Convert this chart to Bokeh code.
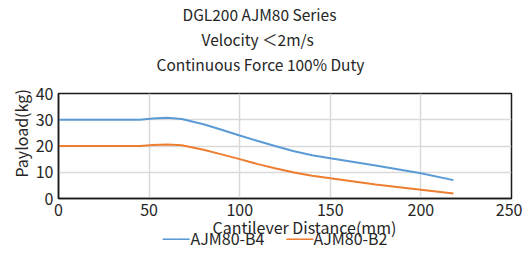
from bokeh.plotting import figure
from bokeh.models import Title, FixedTicker, Range1d
from bokeh.embed import file_html
from bokeh.resources import INLINE

titles = ["DGL200 AJM80 Series", "Velocity ＜2m/s", "Continuous Force 100% Duty"]
x_label = "Cantilever Distance(mm)"
y_label = "Payload(kg)"
x_ticks = [0, 50, 100, 150, 200, 250]
y_ticks = [0, 10, 20, 30, 40]

dist = [0, 45, 52, 60, 68, 80, 90, 100, 110, 120, 130, 140, 150, 175, 200, 218]
b4 = [30, 30, 30.5, 30.8, 30.3, 28.3, 26.2, 24.0, 21.9, 19.9, 18.0, 16.5, 15.3, 12.6, 9.6, 7.0]
b2 = [20, 20, 20.4, 20.6, 20.3, 18.6, 16.8, 15.0, 13.1, 11.4, 9.9, 8.7, 7.7, 5.3, 3.3, 1.9]
series_names = ["AJM80-B4", "AJM80-B2"]
colors = ["#5B9BD5", "#ED7D31"]

FONT = "Noto Sans CJK SC"
TXT = "#262626"

p = figure(width=522, height=249, output_backend="svg", toolbar_location=None,
           x_range=Range1d(0, 250), y_range=Range1d(0, 40),
           min_border_left=58, min_border_right=11, min_border_top=0, min_border_bottom=51)

def ttl(text, size, offset, standoff, color=TXT, valign="bottom"):
    return Title(text=text, align="left", offset=offset, text_font=FONT,
                 text_font_size=size, text_font_style="normal", vertical_align=valign,
                 text_color=color, standoff=standoff)

# titles: first added sits closest to the frame
p.add_layout(ttl(" ", "11px", 0, 0), "above")
for t, off in zip(reversed(titles), [98, 143, 124]):
    p.add_layout(ttl(t, "15.5px", off, 1), "above")

p.line(dist, b4, line_color=colors[0], line_width=2)
p.line(dist, b2, line_color=colors[1], line_width=2)

p.xaxis.ticker = FixedTicker(ticks=x_ticks)
p.yaxis.ticker = FixedTicker(ticks=y_ticks)
for ax in (p.xaxis[0], p.yaxis[0]):
    ax.major_tick_line_color = None
    ax.minor_tick_line_color = None
    ax.major_tick_out = 0
    ax.major_tick_in = 0
    ax.axis_line_color = "#1a1a1a"
    ax.axis_line_width = 1.5
    ax.major_label_text_font = FONT
    ax.major_label_text_font_size = "16px"
    ax.major_label_text_color = TXT
p.xaxis.major_label_standoff = 5
p.yaxis.major_label_standoff = 5

p.add_layout(ttl(y_label, "16px", 21, 0), "left")

p.outline_line_color = "#1a1a1a"
p.outline_line_width = 1.5
p.outline_line_alpha = 1
p.xgrid.grid_line_color = "#d9d9d9"
p.ygrid.grid_line_color = "#d9d9d9"
p.xgrid.grid_line_width = 1.5
p.ygrid.grid_line_width = 1.5

# x axis label
p.add_layout(ttl(x_label, "16px", 154, -8, valign="top"), "below")

# legend row (zero net height titles sharing one row)
LS = -26
p.add_layout(ttl("━━", "13.5px", 104, -22, color=colors[0]), "below")
p.add_layout(ttl(series_names[0], "16px", 132, LS), "below")
p.add_layout(ttl("━━", "13.5px", 228, -22, color=colors[1]), "below")
p.add_layout(ttl(series_names[1], "16px", 255, LS), "below")

open("out.html", "w").write(file_html(p, INLINE))
